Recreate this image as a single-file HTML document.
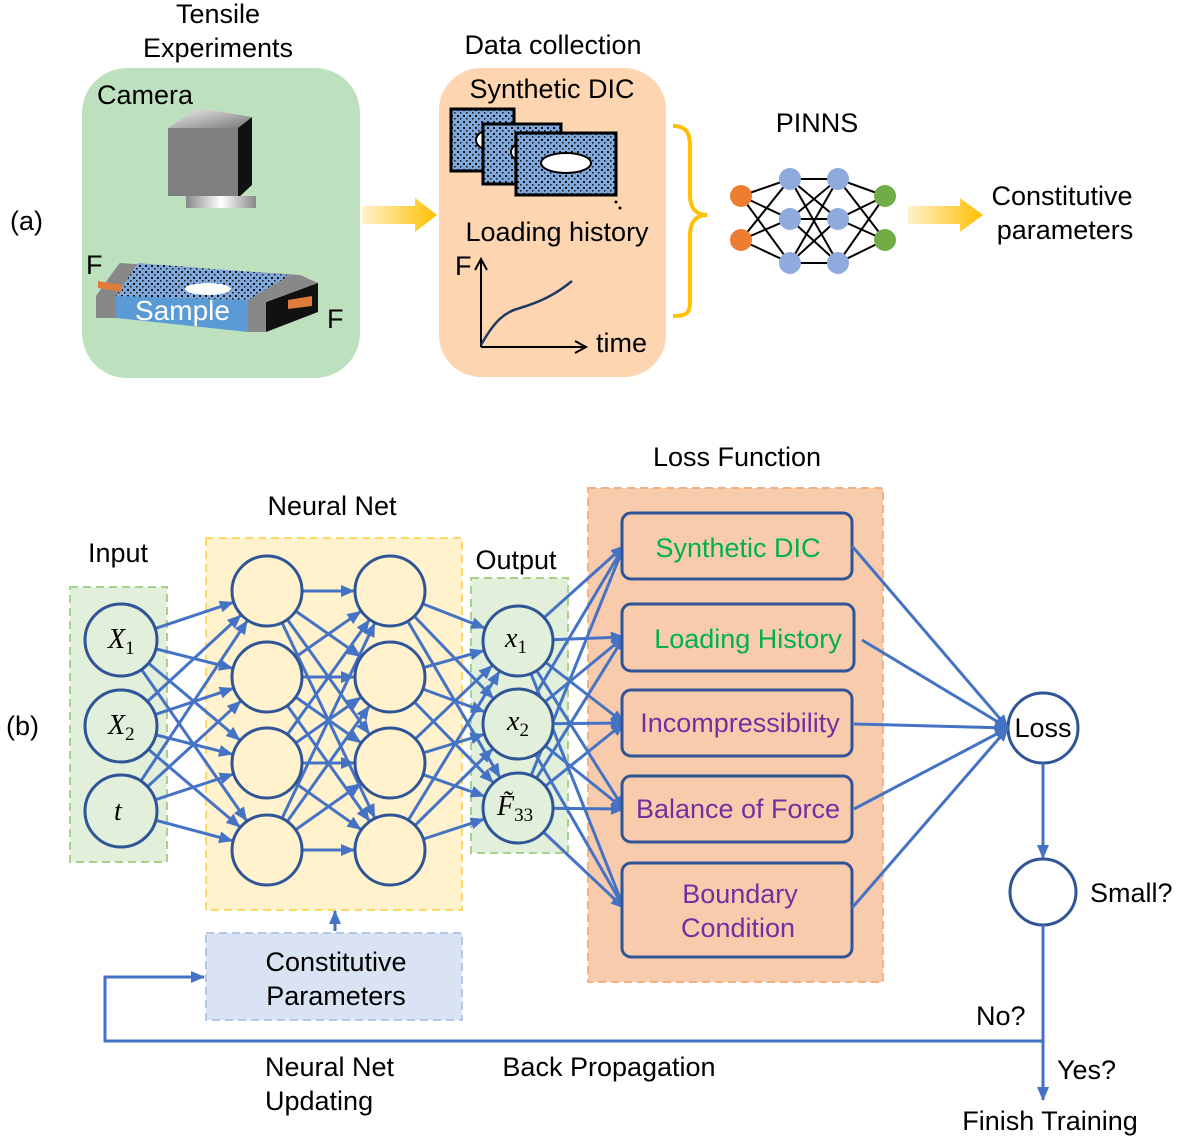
<!DOCTYPE html>
<html><head><meta charset="utf-8"><style>
html,body{margin:0;padding:0;background:#fff;}
svg{display:block;font-family:"Liberation Sans",Arial,sans-serif;}
marker{overflow:visible}
</style></head><body>
<svg width="1194" height="1143" viewBox="0 0 1194 1143" xmlns="http://www.w3.org/2000/svg">
<defs>
<pattern id="spk" width="6" height="6" patternUnits="userSpaceOnUse">
<rect width="6" height="6" fill="#7fa8dc"/><rect x="1" y="1" width="2" height="2" fill="#111"/><rect x="4" y="4" width="1.5" height="1.5" fill="#111"/>
</pattern>
<linearGradient id="ya" x1="0" x2="1"><stop offset="0" stop-color="#fff2cc"/><stop offset="1" stop-color="#ffc000"/></linearGradient>
<linearGradient id="cg" x1="0" x2="1" y1="0" y2="1"><stop offset="0" stop-color="#f2f2f2"/><stop offset="1" stop-color="#777"/></linearGradient>
<linearGradient id="lens" x1="0" x2="1"><stop offset="0" stop-color="#888"/><stop offset="0.5" stop-color="#fff"/><stop offset="1" stop-color="#888"/></linearGradient>
<marker id="ar" markerWidth="14" markerHeight="12" refX="13" refY="6" orient="auto" markerUnits="userSpaceOnUse" style="overflow:visible"><path d="M0,0 L14,6 L0,12 z" fill="#4472c4"/></marker>
<marker id="an" markerWidth="14" markerHeight="12" refX="49" refY="6" orient="auto" markerUnits="userSpaceOnUse" style="overflow:visible"><path d="M0,0 L14,6 L0,12 z" fill="#4472c4"/></marker>
<marker id="bk" markerWidth="12" markerHeight="12" refX="11" refY="6" orient="auto" markerUnits="userSpaceOnUse" style="overflow:visible"><path d="M0,0 L11,6 L0,12" fill="none" stroke="#000" stroke-width="2"/></marker>
</defs>
<g font-size="27" fill="#000">
<!-- (a) -->
<text x="218" y="23" text-anchor="middle">Tensile</text>
<text x="218" y="57" text-anchor="middle">Experiments</text>
<text x="10" y="230">(a)</text>
<rect x="82" y="68" width="278" height="310" rx="45" fill="#bde1be"/>
<text x="97" y="104">Camera</text>
<polygon points="168,128 198,108 252,117 238,128" fill="url(#cg)"/>
<rect x="168" y="128" width="70" height="68" fill="#7f7f7f"/>
<polygon points="238,128 252,117 252,185 238,198" fill="#111"/>
<rect x="186" y="196" width="70" height="12" fill="url(#lens)"/>
<polygon points="120,263 300,275 318,283 265,302 96,296 118,265" fill="#888"/>
<polygon points="138,263 290,275 248,300 116,296" fill="url(#spk)"/>
<ellipse cx="208" cy="289" rx="23" ry="6" fill="#fff"/>
<polygon points="96,296 116,296 116,318 96,318" fill="#888"/>
<polygon points="116,296 248,300 248,332 116,318" fill="#5b9bd5"/>
<polygon points="248,300 266,302 266,332 248,332" fill="#888"/>
<polygon points="266,302 318,283 318,312 266,332" fill="#111"/>
<polygon points="98,281 122,285 122,292 98,288" fill="#e07b39"/>
<polygon points="288,300 312,296 312,306 288,309" fill="#e07b39"/>
<text x="86" y="274">F</text>
<text x="327" y="328">F</text>
<text x="135" y="320" fill="#fff" font-size="28">Sample</text>
<polygon points="362,206 415,206 415,198 437,215 415,232 415,224 362,224" fill="url(#ya)"/>
<polygon points="908,206 960,206 960,198 983,215 960,232 960,224 908,224" fill="url(#ya)"/>
<text x="553" y="54" text-anchor="middle">Data collection</text>
<rect x="439" y="68" width="227" height="309" rx="42" fill="#fdd5b1"/>
<text x="552" y="98" text-anchor="middle">Synthetic DIC</text>
<rect x="451" y="109" width="63" height="62" fill="url(#spk)" stroke="#000" stroke-width="3"/>
<ellipse cx="490" cy="140" rx="14" ry="10" fill="#fff" stroke="#000" stroke-width="2"/>
<rect x="483" y="124" width="78" height="60" fill="url(#spk)" stroke="#000" stroke-width="3"/>
<ellipse cx="525" cy="152" rx="14" ry="10" fill="#fff" stroke="#000" stroke-width="2"/>
<rect x="516" y="133" width="100" height="62" fill="url(#spk)" stroke="#000" stroke-width="3"/>
<ellipse cx="566" cy="163" rx="25" ry="10" fill="#fff" stroke="#000" stroke-width="2"/>
<circle cx="616" cy="202" r="1.5" fill="#000"/><circle cx="620" cy="208" r="1.5" fill="#000"/>
<text x="557" y="241" text-anchor="middle">Loading history</text>
<line x1="481" y1="347" x2="481" y2="259" stroke="#000" stroke-width="2" marker-end="url(#bk)"/>
<line x1="481" y1="347" x2="586" y2="347" stroke="#000" stroke-width="2" marker-end="url(#bk)"/>
<text x="455" y="275">F</text>
<text x="596" y="352">time</text>
<path d="M481,345 C495,320 505,312 520,308 C540,302 555,295 572,281" fill="none" stroke="#1f3864" stroke-width="2.5"/>
<path d="M673,126 C692,126 690,140 690,160 L690,195 C690,210 698,215 707,215 C698,215 690,220 690,235 L690,290 C690,310 692,316 673,316" fill="none" stroke="#ffc000" stroke-width="4"/>
<text x="817" y="132" text-anchor="middle">PINNS</text>
<g stroke="#000" stroke-width="2">
<line x1="741" y1="196" x2="790" y2="179"/><line x1="741" y1="196" x2="790" y2="219"/><line x1="741" y1="196" x2="790" y2="263"/>
<line x1="741" y1="240" x2="790" y2="179"/><line x1="741" y1="240" x2="790" y2="219"/><line x1="741" y1="240" x2="790" y2="263"/>
<line x1="790" y1="179" x2="838" y2="179"/><line x1="790" y1="179" x2="838" y2="219"/><line x1="790" y1="179" x2="838" y2="263"/>
<line x1="790" y1="219" x2="838" y2="179"/><line x1="790" y1="219" x2="838" y2="219"/><line x1="790" y1="219" x2="838" y2="263"/>
<line x1="790" y1="263" x2="838" y2="179"/><line x1="790" y1="263" x2="838" y2="219"/><line x1="790" y1="263" x2="838" y2="263"/>
<line x1="838" y1="179" x2="885" y2="196"/><line x1="838" y1="179" x2="885" y2="240"/>
<line x1="838" y1="219" x2="885" y2="196"/><line x1="838" y1="219" x2="885" y2="240"/>
<line x1="838" y1="263" x2="885" y2="196"/><line x1="838" y1="263" x2="885" y2="240"/>
</g>
<circle cx="741" cy="196" r="11" fill="#ed7d31"/><circle cx="741" cy="240" r="11" fill="#ed7d31"/>
<circle cx="790" cy="179" r="11" fill="#8faadc"/><circle cx="790" cy="219" r="11" fill="#8faadc"/><circle cx="790" cy="263" r="11" fill="#8faadc"/>
<circle cx="838" cy="179" r="11" fill="#8faadc"/><circle cx="838" cy="219" r="11" fill="#8faadc"/><circle cx="838" cy="263" r="11" fill="#8faadc"/>
<circle cx="885" cy="196" r="11" fill="#70ad47"/><circle cx="885" cy="240" r="11" fill="#70ad47"/>
<text x="1062" y="205" text-anchor="middle">Constitutive</text>
<text x="1065" y="239" text-anchor="middle">parameters</text>

<!-- (b) -->
<text x="6" y="735">(b)</text>
<text x="737" y="466" text-anchor="middle">Loss Function</text>
<text x="332" y="515" text-anchor="middle">Neural Net</text>
<text x="118" y="562" text-anchor="middle">Input</text>
<text x="516" y="569" text-anchor="middle">Output</text>
<rect x="70" y="587" width="97" height="275" fill="#e2efda" stroke="#a9d18e" stroke-width="2" stroke-dasharray="8,5"/>
<rect x="206" y="538" width="256" height="372" fill="#fff2cc" stroke="#ffd966" stroke-width="2" stroke-dasharray="8,5"/>
<rect x="471" y="578" width="97" height="275" fill="#e2efda" stroke="#a9d18e" stroke-width="2" stroke-dasharray="8,5"/>
<rect x="588" y="488" width="295" height="494" fill="#f8cbad" stroke="#f4b183" stroke-width="2" stroke-dasharray="8,5"/>
<rect x="206" y="933" width="256" height="87" fill="#dae3f3" stroke="#b4c7e7" stroke-width="2" stroke-dasharray="8,5"/>
<text x="336" y="971" text-anchor="middle">Constitutive</text>
<text x="336" y="1005" text-anchor="middle">Parameters</text>
<g stroke="#4472c4" stroke-width="3" fill="none" marker-end="url(#an)">
<line x1="121" y1="640" x2="267" y2="591"/><line x1="121" y1="640" x2="267" y2="677"/><line x1="121" y1="640" x2="267" y2="763"/><line x1="121" y1="640" x2="267" y2="850"/>
<line x1="121" y1="726" x2="267" y2="591"/><line x1="121" y1="726" x2="267" y2="677"/><line x1="121" y1="726" x2="267" y2="763"/><line x1="121" y1="726" x2="267" y2="850"/>
<line x1="121" y1="811" x2="267" y2="591"/><line x1="121" y1="811" x2="267" y2="677"/><line x1="121" y1="811" x2="267" y2="763"/><line x1="121" y1="811" x2="267" y2="850"/>
<line x1="267" y1="591" x2="390" y2="591"/><line x1="267" y1="591" x2="390" y2="677"/><line x1="267" y1="591" x2="390" y2="763"/><line x1="267" y1="591" x2="390" y2="850"/>
<line x1="267" y1="677" x2="390" y2="591"/><line x1="267" y1="677" x2="390" y2="677"/><line x1="267" y1="677" x2="390" y2="763"/><line x1="267" y1="677" x2="390" y2="850"/>
<line x1="267" y1="763" x2="390" y2="591"/><line x1="267" y1="763" x2="390" y2="677"/><line x1="267" y1="763" x2="390" y2="763"/><line x1="267" y1="763" x2="390" y2="850"/>
<line x1="267" y1="850" x2="390" y2="591"/><line x1="267" y1="850" x2="390" y2="677"/><line x1="267" y1="850" x2="390" y2="763"/><line x1="267" y1="850" x2="390" y2="850"/>
<line x1="390" y1="591" x2="518" y2="641"/><line x1="390" y1="591" x2="518" y2="724"/><line x1="390" y1="591" x2="518" y2="808"/>
<line x1="390" y1="677" x2="518" y2="641"/><line x1="390" y1="677" x2="518" y2="724"/><line x1="390" y1="677" x2="518" y2="808"/>
<line x1="390" y1="763" x2="518" y2="641"/><line x1="390" y1="763" x2="518" y2="724"/><line x1="390" y1="763" x2="518" y2="808"/>
<line x1="390" y1="850" x2="518" y2="641"/><line x1="390" y1="850" x2="518" y2="724"/><line x1="390" y1="850" x2="518" y2="808"/>
</g>
<g stroke="#4472c4" stroke-width="3" fill="none" marker-end="url(#ar)">
<line x1="518" y1="641" x2="624" y2="546"/><line x1="518" y1="641" x2="624" y2="637"/><line x1="518" y1="641" x2="624" y2="723"/><line x1="518" y1="641" x2="624" y2="809"/><line x1="518" y1="641" x2="624" y2="908"/>
<line x1="518" y1="724" x2="624" y2="546"/><line x1="518" y1="724" x2="624" y2="637"/><line x1="518" y1="724" x2="624" y2="723"/><line x1="518" y1="724" x2="624" y2="809"/><line x1="518" y1="724" x2="624" y2="908"/>
<line x1="518" y1="808" x2="624" y2="546"/><line x1="518" y1="808" x2="624" y2="637"/><line x1="518" y1="808" x2="624" y2="723"/><line x1="518" y1="808" x2="624" y2="809"/><line x1="518" y1="808" x2="624" y2="908"/>
</g>
<g stroke="#2f5597" stroke-width="3">
<circle cx="121" cy="640" r="36" fill="#e2efda"/><circle cx="121" cy="726" r="36" fill="#e2efda"/><circle cx="121" cy="811" r="36" fill="#e2efda"/>
<circle cx="267" cy="591" r="35" fill="#fff2cc"/><circle cx="267" cy="677" r="35" fill="#fff2cc"/><circle cx="267" cy="763" r="35" fill="#fff2cc"/><circle cx="267" cy="850" r="35" fill="#fff2cc"/>
<circle cx="390" cy="591" r="35" fill="#fff2cc"/><circle cx="390" cy="677" r="35" fill="#fff2cc"/><circle cx="390" cy="763" r="35" fill="#fff2cc"/><circle cx="390" cy="850" r="35" fill="#fff2cc"/>
<circle cx="518" cy="641" r="35" fill="#e2efda"/><circle cx="518" cy="724" r="35" fill="#e2efda"/><circle cx="518" cy="808" r="35" fill="#e2efda"/>
</g>
<g stroke="#2f5597" stroke-width="3" fill="#f8cbad">
<rect x="622" y="513" width="230" height="66" rx="9"/>
<rect x="622" y="604" width="232" height="67" rx="9"/>
<rect x="622" y="690" width="230" height="66" rx="9"/>
<rect x="622" y="776" width="230" height="66" rx="9"/>
<rect x="622" y="863" width="230" height="94" rx="9"/>
</g>
<text x="738" y="557" text-anchor="middle" fill="#00b050">Synthetic DIC</text>
<text x="748" y="648" text-anchor="middle" fill="#00b050">Loading History</text>
<text x="740" y="732" text-anchor="middle" fill="#7030a0">Incompressibility</text>
<text x="738" y="818" text-anchor="middle" fill="#7030a0">Balance of Force</text>
<text x="740" y="903" text-anchor="middle" fill="#7030a0">Boundary</text>
<text x="738" y="937" text-anchor="middle" fill="#7030a0">Condition</text>
<g font-family="'Liberation Serif',serif" font-style="italic" font-size="28">
<text x="108" y="648">X<tspan font-size="19" font-style="normal" dy="6">1</tspan></text>
<text x="108" y="734">X<tspan font-size="19" font-style="normal" dy="6">2</tspan></text>
<text x="114" y="820">t</text>
<text x="505" y="647">x<tspan font-size="19" font-style="normal" dy="6">1</tspan></text>
<text x="507" y="730">x<tspan font-size="19" font-style="normal" dy="6">2</tspan></text>
<text x="497" y="815">F̃<tspan font-size="19" font-style="normal" dy="6">33</tspan></text>
</g>
<circle cx="1043" cy="728" r="35" fill="#fff" stroke="#2f5597" stroke-width="3"/>
<text x="1043" y="737" text-anchor="middle">Loss</text>
<circle cx="1043" cy="892" r="33" fill="#fff" stroke="#2f5597" stroke-width="3"/>
<text x="1090" y="902">Small?</text>
<g stroke="#4472c4" stroke-width="3" fill="none">
<line x1="1043" y1="763" x2="1043" y2="858" marker-end="url(#ar)"/>
<line x1="1043" y1="925" x2="1043" y2="1100" marker-end="url(#ar)"/>
<polyline points="1043,1041 105,1041 105,977 204,977" marker-end="url(#ar)"/>
<line x1="335" y1="931" x2="335" y2="911" marker-end="url(#ar)"/>
<line x1="852" y1="546" x2="1008" y2="728" marker-end="url(#ar)"/>
<line x1="862" y1="640" x2="1008" y2="728" marker-end="url(#ar)"/>
<line x1="854" y1="724" x2="1008" y2="728" marker-end="url(#ar)"/>
<line x1="854" y1="809" x2="1008" y2="728" marker-end="url(#ar)"/>
<line x1="852" y1="908" x2="1008" y2="728" marker-end="url(#ar)"/>
</g>
<text x="976" y="1025">No?</text>
<text x="1057" y="1079">Yes?</text>
<text x="1050" y="1130" text-anchor="middle">Finish Training</text>
<text x="609" y="1076" text-anchor="middle">Back Propagation</text>
<text x="265" y="1076">Neural Net</text>
<text x="265" y="1110">Updating</text>
</g>
</svg>
</body></html>
